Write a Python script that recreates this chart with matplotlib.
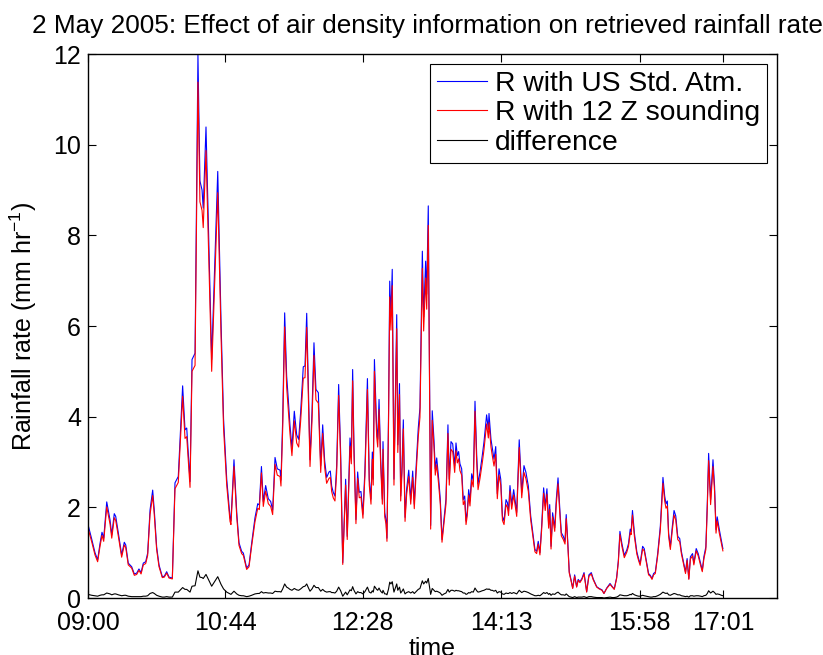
import numpy as np
import matplotlib
matplotlib.use('Agg')
import matplotlib.pyplot as plt

plt.rcParams['font.family'] = ['Liberation Sans', 'DejaVu Sans']
plt.rcParams['mathtext.fontset'] = 'custom'
plt.rcParams['mathtext.rm'] = 'Liberation Sans'
plt.rcParams['mathtext.it'] = 'Liberation Sans'

# minutes after 09:00
minutes = [0, 2.8, 5.3, 7.3, 9.1, 10.6, 11.9, 14.2, 16.7, 18.0,
           19.9, 21.0, 23.0, 25.5, 27.5, 28.6, 30.5, 33.1, 35.1, 36.9,
           38.6, 40.2, 41.9, 43.7, 45.2, 47.0, 49.0, 50.2, 52.0, 53.8,
           56.3, 57.8, 59.6, 61.4, 63.9, 65.9, 68.4, 71.7, 73.5, 74.8,
           77.3, 78.8, 81.1, 83.3, 84.8, 86.4, 87.3, 89.4, 93.7, 95.7,
           98.3, 100.8, 102.7, 105.1, 107.6, 108.3, 110.6, 112.7, 114.4, 116.4,
           117.7, 120.2, 122.0, 124.0, 126.5, 128.6, 129.8, 131.4, 132.8, 134.6,
           136.6, 138.4, 139.9, 141.7, 143.4, 145.5, 146.2, 147.5, 149.0, 150.5,
           151.7, 153.0, 154.5, 156.3, 158.1, 159.6, 161.1, 163.1, 164.4, 165.7,
           166.9, 168.2, 169.7, 171.2, 172.7, 174.5, 176.3, 177.8, 179.3, 180.8,
           182.6, 183.6, 184.6, 185.8, 187.1, 188.4, 189.9, 191.4, 193.0, 195.2,
           196.4, 198.5, 199.5, 200.5, 201.5, 203.0, 204.3, 205.5, 206.8, 208.3,
           209.8, 211.7, 213.1, 214.4, 215.4, 216.1, 217.0, 218.7, 219.5, 220.5,
           221.7, 223.0, 223.5, 224.8, 225.8, 226.5, 227.7, 228.6, 229.5, 230.5,
           231.8, 233.9, 234.7, 236.0, 236.9, 237.9, 238.9, 240.2, 241.4, 243.0,
           244.5, 246.0, 247.2, 248.5, 250.2, 251.5, 253.3, 254.3, 255.8, 256.6,
           257.8, 258.6, 259.6, 260.8, 262.1, 263.1, 264.2, 265.7, 266.9, 268.2,
           269.7, 271.2, 272.7, 273.7, 275.0, 276.3, 277.8, 278.8, 279.8, 280.8,
           281.8, 283.1, 284.3, 285.4, 286.4, 287.3, 288.4, 289.4, 290.7, 291.9,
           293.2, 294.5, 295.5, 297.0, 298.7, 300.0, 302.0, 303.3, 303.8, 305.3,
           306.3, 307.6, 308.9, 310.1, 311.4, 312.7, 314.0, 315.2, 316.7, 317.8,
           318.6, 319.7, 321.0, 322.5, 324.8, 326.7, 328.6, 330.3, 331.8, 333.6,
           335.4, 336.9, 338.6, 339.9, 341.1, 342.4, 343.7, 345.2, 346.4, 347.7,
           349.0, 349.8, 350.8, 352.0, 353.6, 354.8, 356.1, 357.6, 358.6, 360.1,
           361.4, 362.3, 363.4, 364.6, 365.9, 367.2, 368.7, 370.2, 371.4, 372.7,
           374.2, 375.8, 377.8, 379.5, 381.3, 382.8, 385.4, 387.3, 389.4, 390.9,
           393.0, 395.5, 397.2, 398.7, 400.5, 401.8, 403.0, 404.5, 406.3, 408.2,
           409.5, 410.8, 411.5, 412.5, 414.0, 415.8, 417.1, 418.3, 420.2, 421.4,
           423.0, 424.7, 426.0, 427.3, 428.5, 429.8, 431.6, 433.6, 435.6, 436.9,
           437.9, 438.9, 439.9, 441.2, 442.7, 444.0, 445.3, 446.8, 448.3, 449.6,
           451.4, 452.7, 453.9, 455.2, 456.4, 458.0, 459.0, 460.8, 462.3, 464.1,
           465.4, 466.6, 468.1, 469.2, 470.2, 471.7, 473.5, 474.7, 475.8, 476.7,
           478.3, 479.8, 481.0]

# R with US standard atmosphere (mm/hr)
r_std = [1.62, 1.30, 1.00, 0.84, 1.20, 1.45, 1.32, 2.12, 1.72, 1.39,
         1.86, 1.80, 1.43, 0.95, 1.23, 1.17, 0.77, 0.69, 0.53, 0.55,
         0.64, 0.56, 0.77, 0.80, 0.99, 1.94, 2.38, 1.94, 1.13, 0.73,
         0.47, 0.48, 0.58, 0.46, 0.44, 2.54, 2.68, 4.68, 3.71, 3.75,
         2.57, 5.26, 5.40, 11.98, 9.20, 9.00, 8.60, 10.39, 5.26, 7.05,
         9.41, 6.08, 3.95, 2.62, 1.78, 1.70, 3.05, 1.88, 1.22, 1.03,
         0.99, 0.66, 0.73, 1.21, 1.77, 2.08, 2.05, 2.90, 2.13, 2.48,
         2.19, 2.13, 1.94, 3.10, 2.85, 2.82, 2.60, 3.93, 6.29, 4.90,
         4.40, 3.82, 3.31, 4.12, 3.60, 3.50, 4.10, 5.10, 5.12, 6.28,
         4.70, 3.05, 4.10, 5.63, 4.60, 4.53, 2.92, 3.82, 3.03, 2.66,
         2.78, 2.80, 2.47, 2.33, 2.25, 2.92, 4.71, 3.22, 0.78, 2.62,
         1.36, 3.53, 3.12, 5.04, 3.36, 1.73, 2.78, 2.33, 2.35, 1.85,
         2.83, 4.84, 2.62, 2.18, 3.22, 2.62, 5.26, 3.75, 3.50, 4.38,
         3.10, 2.18, 3.45, 1.88, 1.72, 1.32, 4.08, 6.99, 6.22, 7.25,
         2.62, 6.25, 3.38, 4.73, 2.25, 2.92, 3.93, 1.78, 2.40, 2.82,
         2.18, 2.80, 2.07, 2.85, 3.74, 4.20, 7.65, 6.20, 7.43, 6.70,
         8.65, 5.60, 1.60, 4.13, 3.50, 2.85, 3.09, 2.62, 2.18, 1.29,
         1.73, 2.18, 3.82, 2.62, 3.45, 3.40, 2.92, 3.42, 3.14, 3.23,
         2.96, 2.85, 2.17, 2.25, 1.70, 1.90, 2.39, 2.14, 2.74, 2.58,
         4.34, 3.14, 2.52, 2.78, 3.14, 3.44, 4.04, 3.72, 4.07, 3.50,
         3.31, 3.06, 3.34, 2.30, 2.85, 2.62, 1.80, 1.70, 2.17, 2.10,
         1.92, 2.48, 2.06, 2.39, 1.89, 3.49, 2.33, 2.92, 2.77, 2.47,
         1.81, 1.47, 1.07, 1.03, 1.25, 1.00, 1.59, 2.43, 2.03, 2.41,
         1.62, 2.06, 1.14, 1.88, 1.55, 2.18, 2.65, 1.89, 1.44, 1.36,
         1.25, 1.84, 1.29, 0.58, 0.41, 0.22, 0.51, 0.25, 0.41, 0.36,
         0.43, 0.56, 0.14, 0.51, 0.56, 0.42, 0.25, 0.21, 0.18, 0.10,
         0.22, 0.32, 0.25, 0.20, 0.45, 0.83, 1.47, 1.20, 0.94, 1.06,
         1.20, 1.52, 1.47, 1.93, 1.42, 1.02, 0.87, 0.76, 1.14, 1.09,
         0.83, 0.54, 0.50, 0.43, 0.54, 0.57, 0.98, 1.58, 2.66, 2.25,
         2.08, 2.14, 1.43, 1.13, 1.58, 1.93, 1.81, 1.36, 1.31, 1.02,
         0.76, 0.57, 0.87, 0.43, 0.91, 0.98, 0.77, 1.09, 0.98, 0.76,
         0.61, 0.91, 1.13, 2.10, 3.19, 2.17, 3.05, 2.47, 1.51, 1.79,
         1.51, 1.28, 1.09]

# R with 12 Z sounding (mm/hr)
r_snd = [1.54, 1.24, 0.95, 0.80, 1.14, 1.38, 1.25, 2.01, 1.63, 1.32,
         1.77, 1.71, 1.36, 0.90, 1.17, 1.11, 0.73, 0.66, 0.50, 0.52,
         0.61, 0.53, 0.73, 0.76, 0.94, 1.84, 2.26, 1.84, 1.07, 0.69,
         0.45, 0.46, 0.55, 0.44, 0.42, 2.41, 2.55, 4.45, 3.52, 3.56,
         2.44, 5.00, 5.13, 11.38, 8.74, 8.55, 8.17, 9.87, 5.00, 6.70,
         8.94, 5.78, 3.75, 2.49, 1.69, 1.62, 2.90, 1.79, 1.16, 0.98,
         0.94, 0.63, 0.69, 1.15, 1.68, 1.98, 1.95, 2.76, 2.02, 2.36,
         2.08, 2.02, 1.84, 2.95, 2.71, 2.68, 2.47, 3.73, 5.98, 4.66,
         4.18, 3.63, 3.14, 3.91, 3.42, 3.33, 3.90, 4.85, 4.86, 5.97,
         4.47, 2.90, 3.90, 5.35, 4.37, 4.30, 2.77, 3.63, 2.88, 2.53,
         2.64, 2.66, 2.35, 2.21, 2.14, 2.77, 4.47, 3.06, 0.74, 2.49,
         1.29, 3.35, 2.96, 4.79, 3.19, 1.64, 2.64, 2.21, 2.23, 1.76,
         2.69, 4.60, 2.49, 2.07, 3.06, 2.49, 5.00, 3.56, 3.33, 4.16,
         2.95, 2.07, 3.28, 1.79, 1.63, 1.25, 3.88, 6.64, 5.91, 6.89,
         2.49, 5.94, 3.21, 4.49, 2.14, 2.77, 3.73, 1.69, 2.28, 2.68,
         2.07, 2.66, 1.97, 2.71, 3.55, 3.99, 7.27, 5.89, 7.06, 6.37,
         8.22, 5.32, 1.52, 3.92, 3.33, 2.71, 2.94, 2.49, 2.07, 1.23,
         1.64, 2.07, 3.63, 2.49, 3.28, 3.23, 2.77, 3.25, 2.98, 3.07,
         2.81, 2.71, 2.06, 2.14, 1.62, 1.81, 2.27, 2.03, 2.60, 2.45,
         4.12, 2.98, 2.39, 2.64, 2.98, 3.27, 3.84, 3.53, 3.87, 3.33,
         3.14, 2.91, 3.17, 2.19, 2.71, 2.49, 1.71, 1.62, 2.06, 2.00,
         1.82, 2.36, 1.96, 2.27, 1.80, 3.32, 2.21, 2.77, 2.63, 2.35,
         1.72, 1.40, 1.02, 0.98, 1.19, 0.95, 1.51, 2.31, 1.93, 2.29,
         1.54, 1.96, 1.08, 1.79, 1.47, 2.07, 2.52, 1.80, 1.37, 1.29,
         1.19, 1.75, 1.23, 0.55, 0.39, 0.21, 0.48, 0.24, 0.39, 0.34,
         0.41, 0.53, 0.13, 0.48, 0.53, 0.40, 0.24, 0.20, 0.17, 0.10,
         0.21, 0.30, 0.24, 0.19, 0.43, 0.79, 1.40, 1.14, 0.89, 1.01,
         1.14, 1.44, 1.40, 1.83, 1.35, 0.97, 0.83, 0.72, 1.08, 1.04,
         0.79, 0.51, 0.48, 0.41, 0.51, 0.54, 0.93, 1.50, 2.53, 2.14,
         1.98, 2.03, 1.36, 1.07, 1.50, 1.83, 1.72, 1.29, 1.24, 0.97,
         0.72, 0.54, 0.83, 0.41, 0.86, 0.93, 0.73, 1.04, 0.93, 0.72,
         0.58, 0.86, 1.07, 2.00, 3.03, 2.06, 2.90, 2.35, 1.43, 1.70,
         1.43, 1.22, 1.04]

tick_minutes = [0, 104, 208, 313, 418, 481]
tick_labels = ['09:00', '10:44', '12:28', '14:13', '15:58', '17:01']

t = np.asarray(minutes)
a = np.asarray(r_std)
b = np.asarray(r_snd)
diff = a - b

fig = plt.figure(figsize=(8.23, 6.55), dpi=100)
ax = fig.add_axes([88/823, 57/655, 689/823, 544/655])

ax.plot(t, a, color='b', lw=0.8, label='R with US Std. Atm.')
ax.plot(t, b, color='r', lw=0.8, label='R with 12 Z sounding')
ax.plot(t, diff, color='k', lw=0.8, label='difference')

ax.set_xlim(0, 522)
ax.set_ylim(0, 12)
ax.set_xticks(tick_minutes)
ax.set_xticklabels(tick_labels)
ax.set_yticks(range(0, 13, 2))
ax.tick_params(direction='in', top=True, right=True, length=6, width=0.8,
               labelsize=18)
ax.tick_params(axis='x', pad=9)
ax.tick_params(axis='y', pad=5)
for s in ax.spines.values():
    s.set_linewidth(1.0)

ax.set_xlabel('time', fontsize=18, labelpad=2)
ax.set_ylabel('Rainfall rate (mm hr$^{-1}$)', fontsize=18, labelpad=10)
ax.set_title('2 May 2005: Effect of air density information on retrieved rainfall rate',
             fontsize=18.8, pad=15, x=0.492)

leg = ax.legend(loc='upper right', fontsize=20.3, handlelength=1.75,
                labelspacing=0.12, borderpad=0.25, handletextpad=0.3,
                borderaxespad=0.35, fancybox=False, framealpha=1,
                edgecolor='k')
leg.get_frame().set_linewidth(0.8)

fig.savefig('out.png', dpi=100)
